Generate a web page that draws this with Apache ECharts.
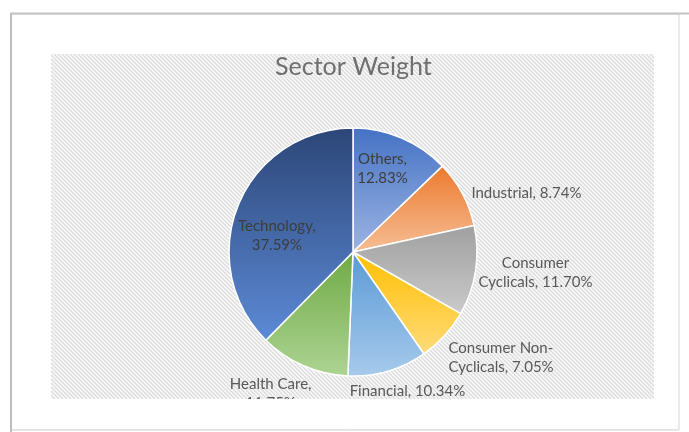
<!DOCTYPE html>
<html>
<head>
<meta charset="utf-8">
<script src="https://cdn.jsdelivr.net/npm/echarts@6/dist/echarts.min.js"></script>
<style>
  html, body { margin: 0; padding: 0; background: #ffffff; }
  #chart { width: 689px; height: 432px; }
</style>
</head>
<body>
<div id="chart"></div>
<script>
// Sector allocation, clockwise from 12 o'clock
const sectors = ['Others', 'Industrial', 'Consumer Cyclicals', 'Consumer Non-Cyclicals', 'Financial', 'Health Care', 'Technology'];
const weights = [12.83, 8.74, 11.70, 7.05, 10.34, 11.75, 37.59];

// Where each label wraps onto a second line (prefix kept on line one)
const wrapAfter = ['Others,', null, 'Consumer', 'Consumer Non-', null, 'Health Care,', 'Technology,'];

// Slice gradients: top colour, bottom colour
const sliceTop = ['#4472C4', '#EC7A2E', '#A0A0A0', '#FFBF00', '#5A9AD6', '#6FAA45', '#2C4677'];
const sliceBottom = ['#9DB4E4', '#F6BE96', '#CACACA', '#FFDB7A', '#A7CAEC', '#ADD493', '#5C8AD6'];

// Label placement tweaks: [shift x, shift y, text align]
const labelNudge = [
  [4, -24, 'center'],
  [9, 0, 'left'],
  [3, 2, 'center'],
  [4, 22, 'left'],
  [-38, 20, 'left'],
  [8, 28, 'center'],
  [-16, 8, 'center']
];
const insideLabel = [true, false, false, false, false, false, true];

// Diagonal hatch tile for the plot background
function hatchTile() {
  const c = document.createElement('canvas');
  c.width = 8; c.height = 8;
  const ctx = c.getContext('2d');
  const img = ctx.createImageData(8, 8);
  for (let y = 0; y < 8; y++) {
    for (let x = 0; x < 8; x++) {
      const d = (((x - y) % 4) + 4) % 4;
      const v = d === 0 ? 218 : (d === 2 ? 250 : 237);
      const i = (y * 8 + x) * 4;
      img.data[i] = v; img.data[i + 1] = v; img.data[i + 2] = v; img.data[i + 3] = 255;
    }
  }
  ctx.putImageData(img, 0, 0);
  return c;
}

const chart = echarts.init(document.getElementById('chart'), null, { renderer: 'canvas' });

const data = sectors.map((name, i) => ({
  name: name,
  value: weights[i],
  itemStyle: {
    color: {
      type: 'linear', x: 0, y: 0, x2: 0, y2: 1,
      colorStops: [{ offset: 0, color: sliceTop[i] }, { offset: 1, color: sliceBottom[i] }]
    }
  },
  label: {
    position: insideLabel[i] ? 'inside' : 'outside',
    color: insideLabel[i] ? '#3d3d3d' : '#595959'
  }
}));

chart.setOption({
  animation: false,
  backgroundColor: '#ffffff',
  title: {
    text: 'Sector Weight',
    left: 270,
    top: 49,
    textStyle: { fontFamily: 'Lato', fontSize: 25, fontWeight: 'normal', color: '#6f6f6f' }
  },
  graphic: [
    // sheet frame
    { type: 'rect', z: -10, shape: { x: 11, y: 14, width: 668, height: 416 },
      style: { fill: '#ffffff', stroke: '#d6d6d6', lineWidth: 1 } },
    { type: 'line', z: -9, shape: { x1: 10, y1: 13.5, x2: 689, y2: 13.5 }, style: { stroke: '#c4c4c4', lineWidth: 2 } },
    { type: 'line', z: -9, shape: { x1: 11, y1: 13, x2: 11, y2: 432 }, style: { stroke: '#bdbdbd', lineWidth: 2 } },
    // hatched plot area
    { type: 'rect', z: -8, shape: { x: 51, y: 54, width: 603, height: 345 },
      style: { fill: { image: hatchTile(), repeat: 'repeat' } } },
    // strip below the plot area, clipping labels that run past it
    { type: 'rect', z: 100, shape: { x: 13, y: 399, width: 664, height: 30 },
      style: { fill: '#ffffff' } },
    { type: 'line', z: 101, shape: { x1: 12, y1: 429.5, x2: 679, y2: 429.5 }, style: { stroke: '#e2e2e2', lineWidth: 1 } }
  ],
  series: [{
    type: 'pie',
    center: [353, 252],
    radius: [0, 124],
    startAngle: 90,
    clockwise: true,
    avoidLabelOverlap: false,
    itemStyle: { borderColor: '#ffffff', borderWidth: 1.5 },
    label: {
      fontFamily: 'Lato',
      fontSize: 15,
      lineHeight: 19,
      distanceToLabelLine: 0,
      formatter: function (p) {
        const text = p.name + ', ' + p.value.toFixed(2) + '%';
        const cut = wrapAfter[p.dataIndex];
        if (cut && text.indexOf(cut) === 0) {
          return cut + '\n' + text.slice(cut.length).trim();
        }
        return text;
      }
    },
    labelLine: { show: false, length: 0, length2: 0 },
    labelLayout: function (p) {
      const n = labelNudge[p.dataIndex];
      const r = p.labelRect;
      const a = n[2];
      const x = a === 'left' ? r.x : (a === 'right' ? r.x + r.width : r.x + r.width / 2);
      return { x: x + n[0], y: r.y + r.height / 2 + n[1], align: a, verticalAlign: 'middle' };
    },
    emphasis: { disabled: true },
    data: data
  }]
});
</script>
</body>
</html>
